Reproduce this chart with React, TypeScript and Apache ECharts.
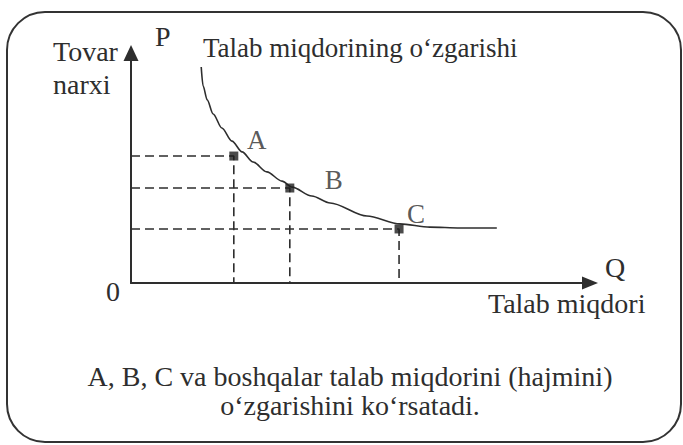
import React, { useEffect, useRef } from "react";
import * as echarts from "echarts";

// Demand curve (Q = quantity, P = price, arbitrary units)
const curveQ = [1.53, 1.57, 1.66, 1.79, 1.98, 2.2, 2.42, 2.66, 2.96, 3.29, 3.51, 3.94, 4.34, 5.14, 5.86, 6.51, 7.17, 7.97];
const curveP = [9.39, 8.57, 7.96, 7.35, 6.74, 6.17, 5.7, 5.26, 4.83, 4.43, 4.17, 3.78, 3.48, 2.91, 2.57, 2.43, 2.39, 2.39];

// Marked points
const pointNames = ["A", "B", "C"];
const pointQ = [2.24, 3.46, 5.84];
const pointP = [5.52, 4.13, 2.35];

// Texts
const yAxisName1 = "Tovar";
const yAxisName2 = "narxi";
const yAxisLetter = "P";
const xAxisLetter = "Q";
const xAxisName = "Talab miqdori";
const originLabel = "0";
const curveTitle = "Talab miqdorining o‘zgarishi";
const captionLine1 = "A, B, C va boshqalar talab miqdorini (hajmini)";
const captionLine2 = "o‘zgarishini ko‘rsatadi.";

const FONT = "Liberation Serif";
const INK = "#2e2e2e";

export default function App() {
  const ref = useRef<HTMLDivElement>(null);

  useEffect(() => {
    if (!ref.current) return;
    const chart = echarts.init(ref.current, undefined, { renderer: "svg" });

    const curveData = curveQ.map((q, i) => [q, curveP[i]]);
    const pointData = pointQ.map((q, i) => ({ name: pointNames[i], value: [q, pointP[i]] }));
    const labelOffsets = [
      [23, -16],
      [44, -8],
      [17, -15],
    ];

    const guideSeries = pointQ.map((q, i) => ({
      type: "line",
      data: [
        [0, pointP[i]],
        [q, pointP[i]],
        [q, 0],
      ],
      symbol: "none",
      silent: true,
      z: 1,
      lineStyle: { color: INK, width: 1.6, type: [9, 5] },
    }));

    const text = (
      t: string,
      x: number,
      y: number,
      size: number,
      align: string = "left"
    ) => ({
      type: "text",
      x,
      y,
      silent: true,
      style: {
        text: t,
        fill: INK,
        fontSize: size,
        fontFamily: FONT,
        align,
        verticalAlign: "middle",
      },
    });

    chart.setOption({
      animation: false,
      backgroundColor: "#ffffff",
      grid: { left: 131, top: 53, width: 459, height: 230 },
      xAxis: {
        type: "value",
        min: 0,
        max: 10,
        axisLine: {
          show: true,
          symbol: ["none", "triangle"],
          symbolSize: [13, 16],
          lineStyle: { color: INK, width: 2 },
        },
        axisTick: { show: false },
        axisLabel: { show: false },
        splitLine: { show: false },
      },
      yAxis: {
        type: "value",
        min: 0,
        max: 10,
        axisLine: {
          show: true,
          symbol: ["none", "triangle"],
          symbolSize: [15, 16],
          lineStyle: { color: INK, width: 2 },
        },
        axisTick: { show: false },
        axisLabel: { show: false },
        splitLine: { show: false },
      },
      series: [
        ...guideSeries,
        {
          type: "line",
          data: curveData,
          smooth: 0.3,
          smoothMonotone: "x",
          symbol: "none",
          z: 3,
          lineStyle: { color: INK, width: 1.6 },
        },
        {
          type: "scatter",
          data: pointData.map((d, i) => ({
            ...d,
            label: { offset: labelOffsets[i] },
          })),
          symbol: "rect",
          symbolSize: 9,
          z: 4,
          itemStyle: { color: "#1e1e1e" },
          label: {
            show: true,
            position: "inside",
            formatter: "{b}",
            color: INK,
            fontSize: 27,
            fontFamily: FONT,
          },
        },
      ],
      graphic: [
        {
          type: "rect",
          silent: true,
          shape: { x: 7, y: 12, width: 674, height: 430, r: 38 },
          style: { fill: "none", stroke: "#333", lineWidth: 2 },
        },
        text(yAxisName1, 53, 51, 28),
        text(yAxisName2, 53, 84, 28),
        text(yAxisLetter, 155, 36, 28),
        text(curveTitle, 203, 48, 27),
        text(originLabel, 113, 291, 28, "center"),
        text(xAxisLetter, 605, 267, 28),
        text(xAxisName, 488, 303, 28),
        text(captionLine1, 350, 376, 28, "center"),
        text(captionLine2, 350, 405, 28, "center"),
      ],
    });

    return () => chart.dispose();
  }, []);

  return (
    <div
      ref={ref}
      style={{ position: "fixed", left: 0, top: 0, width: 683, height: 445, background: "#fff" }}
    />
  );
}
